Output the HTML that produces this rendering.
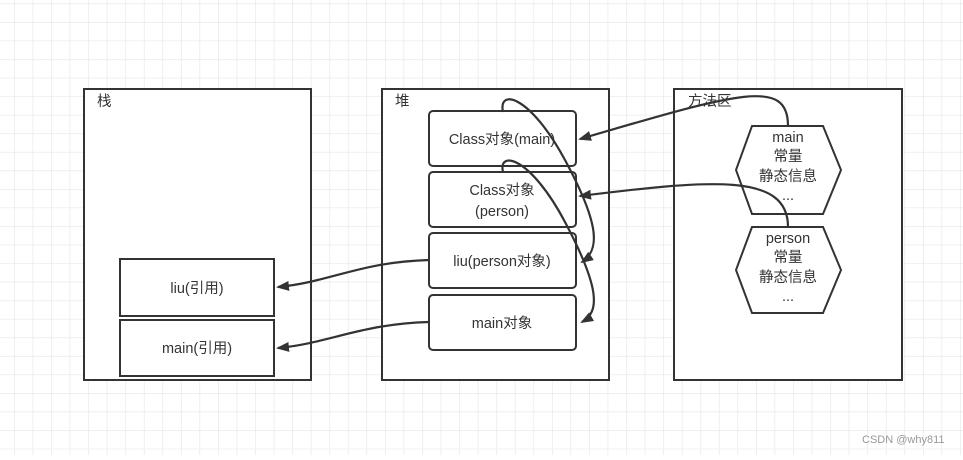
<!DOCTYPE html>
<html><head><meta charset="utf-8"><style>
html,body{margin:0;padding:0;background:#fff}
svg text{font-family:"Liberation Sans","Noto Sans CJK SC",sans-serif;font-size:14.5px;fill:#333}
</style></head><body>
<svg width="963" height="455" viewBox="0 0 963 455" xmlns="http://www.w3.org/2000/svg">
<defs>
<pattern id="g" x="14" y="3.5" width="18.55" height="18.55" patternUnits="userSpaceOnUse">
<path d="M0 0H18.55M0 0V18.55" stroke="#e6e6e6" stroke-width="1.3" fill="none"/>
</pattern>
<marker id="a" markerWidth="13" markerHeight="10" refX="11" refY="5" orient="auto" markerUnits="userSpaceOnUse">
<path d="M0,0 L13,5 L0,10 Z" fill="#333"/>
</marker>
</defs>
<rect width="963" height="455" fill="url(#g)"/>
<g fill="#fff" stroke="#333" stroke-width="2">
<rect x="84" y="89" width="227" height="291"/>
<rect x="382" y="89" width="227" height="291"/>
<rect x="674" y="89" width="228" height="291"/>
<rect x="120" y="259" width="154" height="57"/>
<rect x="120" y="320" width="154" height="56"/>
<rect x="429" y="111" width="147" height="55" rx="4"/>
<rect x="429" y="172" width="147" height="55" rx="4"/>
<rect x="429" y="233" width="147" height="55" rx="4"/>
<rect x="429" y="295" width="147" height="55" rx="4"/>
<polygon points="752,126 823,126 841,170 823,214 752,214 736,170"/>
<polygon points="752,227 823,227 841,270 823,313 752,313 736,270"/>
</g>
<text x="97" y="106">栈</text>
<text x="395" y="106">堆</text>
<text x="688" y="106">方法区</text>
<g text-anchor="middle">
<text x="197" y="293">liu(引用)</text>
<text x="197" y="353">main(引用)</text>
<text x="502" y="144">Class对象(main)</text>
<text x="502" y="195">Class对象</text>
<text x="502" y="216">(person)</text>
<text x="502" y="266">liu(person对象)</text>
<text x="502" y="328">main对象</text>
<text x="788" y="142">main</text>
<text x="788" y="161">常量</text>
<text x="788" y="181">静态信息</text>
<text x="788" y="200">...</text>
<text x="788" y="243">person</text>
<text x="788" y="262">常量</text>
<text x="788" y="282">静态信息</text>
<text x="788" y="301">...</text>
</g>
<g fill="none" stroke="#333" stroke-width="2.2">
<path d="M788,126 C788,78 740,92 580,139" marker-end="url(#a)"/>
<path d="M788,227 C788,172 710,180 580,196" marker-end="url(#a)"/>
<path d="M429,260 C360,262 330,282 278,287" marker-end="url(#a)"/>
<path d="M429,322 C360,324 330,343 278,348" marker-end="url(#a)"/>
<path d="M503,112 C498,88 530,95 565,160 C600,225 600,250 582,262" marker-end="url(#a)"/>
<path d="M503,172 C498,150 530,156 565,222 C600,288 600,312 582,322" marker-end="url(#a)"/>
</g>
<text x="862" y="443" style="font-size:11px;fill:#999">CSDN @why811</text>
</svg>
</body></html>
